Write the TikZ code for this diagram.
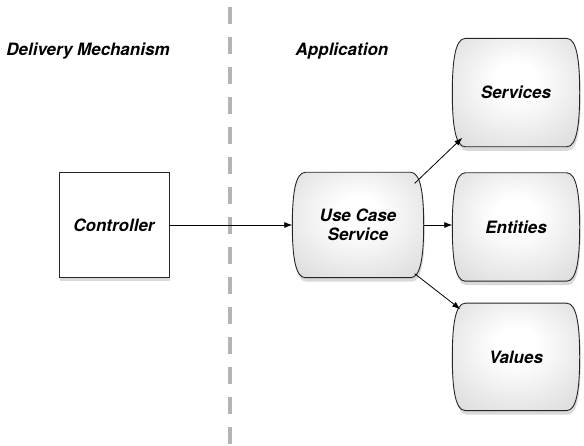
\documentclass[tikz,border=0pt]{standalone}
\usepackage{fontspec}
\setmainfont{TeX Gyre Heros}
\usepackage{tikz}
\usetikzlibrary{arrows.meta,positioning,calc,shadows,backgrounds}
\definecolor{dividergray}{RGB}{180,180,180}
\definecolor{drumedge}{RGB}{196,196,196}
\pgfdeclareradialshading{drumshade}{\pgfpoint{0bp}{6bp}}{color(0bp)=(white); color(8bp)=(white); color(55bp)=(drumedge); color(80bp)=(drumedge)}
% outline of a rounded drum behind a named node
\newcommand{\drumoutline}[1]{%
 \draw[drumline] ($(#1.north west)+(13,0)$) -- ($(#1.north east)+(-13,0)$)
  .. controls ($(#1.north east)+(-3,0)$) and ($(#1.north east)+(0,22)$) .. (#1.east)
  .. controls ($(#1.south east)+(0,-22)$) and ($(#1.south east)+(-3,0)$) .. ($(#1.south east)+(-13,0)$)
  -- ($(#1.south west)+(13,0)$)
  .. controls ($(#1.south west)+(3,0)$) and ($(#1.south west)+(0,-22)$) .. (#1.west)
  .. controls ($(#1.north west)+(0,22)$) and ($(#1.north west)+(3,0)$) .. cycle;}

\begin{document}
\begin{tikzpicture}[x=1pt, y=-1pt, >={Latex[length=8pt,width=6pt]},
 every node/.style={font=\fontsize{17}{19}\selectfont\bfseries\itshape, align=center},
 title/.style={inner sep=0pt},
 ctrlbox/.style={draw=black!85, line width=0.9pt, fill=white, minimum width=110pt, minimum height=105pt,
  drop shadow={shadow xshift=1pt, shadow yshift=-4pt, opacity=0.3}},
 drum/.style={inner sep=0pt, minimum width=127pt, minimum height=108pt},
 drumline/.style={draw=black!85, line width=0.9pt, shading=drumshade,
  drop shadow={shadow xshift=1pt, shadow yshift=-4pt, opacity=0.3}},
 link/.style={->, line width=0.8pt},
 divider/.style={draw=dividergray, line width=4pt, dash pattern=on 17pt off 13pt, dash phase=-7pt}]
\useasboundingbox (0,0) rectangle (584,446);
\coordinate (divtop) at (230,0);
\coordinate (divbot) at (230,446);
\draw[divider] (divtop) -- (divbot);
\node[title] (delivery) at (88,51) {Delivery Mechanism};
\node[title] (application) at (342,51) {Application};
\node[ctrlbox] (controller) at (114,225) {Controller};
\node[drum, minimum width=131pt, minimum height=105pt] (usecase) at (358,225) {Use Case\\Service};
\node[drum] (entities) at (516,227) {Entities};
\node[drum, above=26pt of entities] (services) {Services};
\node[drum, below=22pt of entities, minimum height=107pt] (values) {Values};
\begin{scope}[on background layer]
\drumoutline{usecase}
\drumoutline{services}
\drumoutline{entities}
\drumoutline{values}
\end{scope}
\draw[link] (controller.east) -- (usecase.west);
\draw[link] (usecase.east) -- (usecase.east -| entities.west);
\draw[link] ($(usecase.north east)+(-9,11)$) -- ($(services.south west)+(10,-9)$);
\draw[link] ($(usecase.south east)+(-9,-4)$) -- ($(values.north west)+(8,6)$);
\end{tikzpicture}
\end{document}
